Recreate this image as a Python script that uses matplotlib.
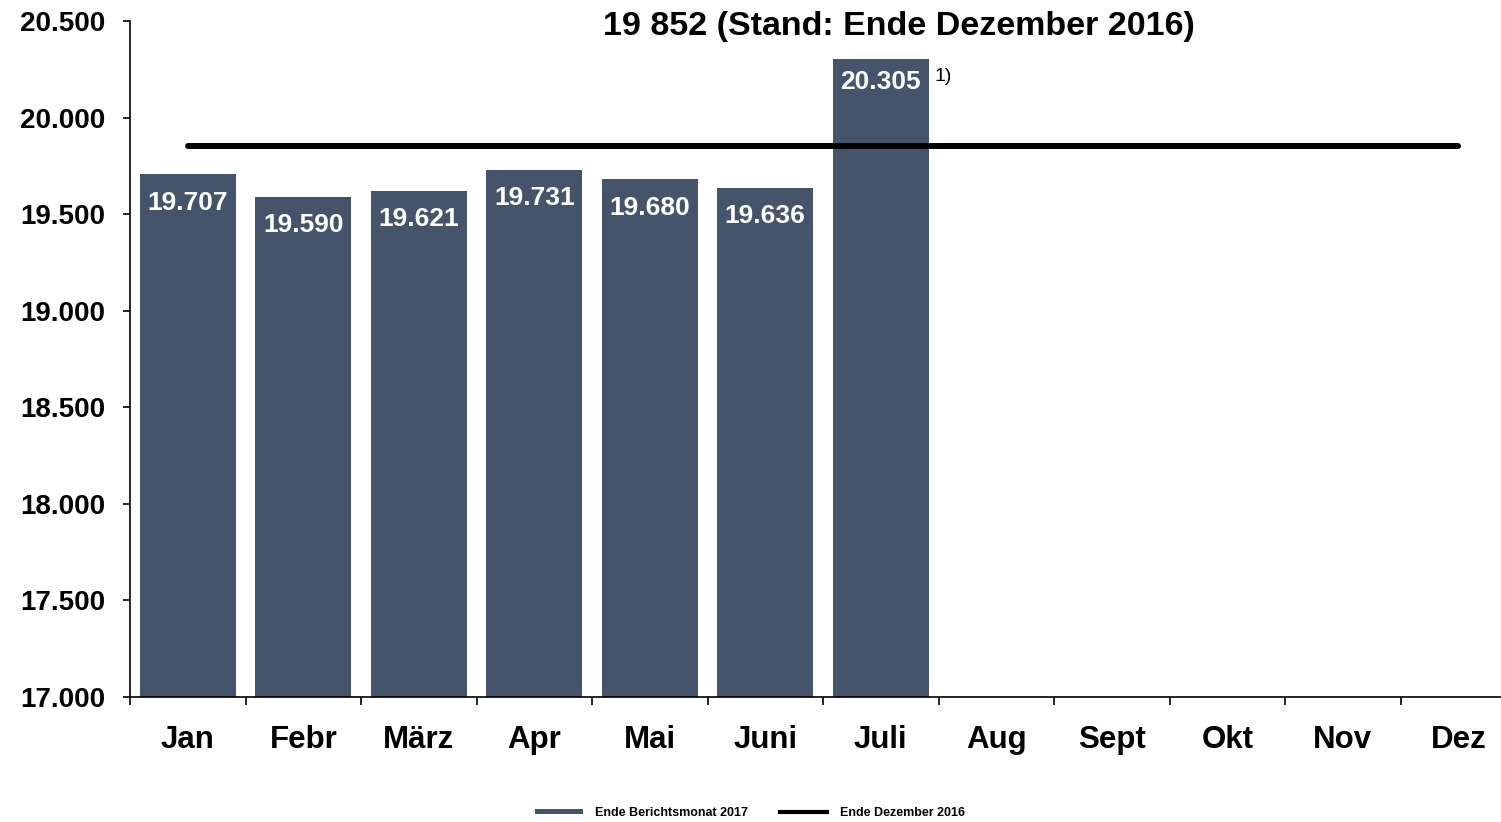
import matplotlib
matplotlib.use("Agg")
import matplotlib.pyplot as plt
from matplotlib.lines import Line2D
from matplotlib.patches import Patch

months = ["Jan", "Febr", "März", "Apr", "Mai", "Juni", "Juli", "Aug", "Sept", "Okt", "Nov", "Dez"]
values_2017 = [19707, 19590, 19621, 19731, 19680, 19636, 20305]
labels_2017 = ["19.707", "19.590", "19.621", "19.731", "19.680", "19.636", "20.305"]
ref_2016 = 19852
yticks = [17000, 17500, 18000, 18500, 19000, 19500, 20000, 20500]
ytick_labels = ["17.000", "17.500", "18.000", "18.500", "19.000", "19.500", "20.000", "20.500"]
title = "19 852 (Stand: Ende Dezember 2016)"
legend_labels = ["Ende Berichtsmonat 2017", "Ende Dezember 2016"]

plt.rcParams['font.family'] = ['Liberation Sans', 'DejaVu Sans']

W, H = 1501, 822
fig = plt.figure(figsize=(W / 100, H / 100), dpi=100)
ax = fig.add_axes([130 / W, (H - 697) / H, (W - 130) / W, 676 / H])

bar_color = "#45546b"
xs = list(range(len(values_2017)))
ax.bar(xs, [v - 17000 for v in values_2017], bottom=17000, width=0.83, color=bar_color, zorder=2)
ax.plot([0, len(months) - 1], [ref_2016, ref_2016], color="black", lw=4.3, zorder=3,
        solid_capstyle="round")

for x, v, lab in zip(xs, values_2017, labels_2017):
    ax.annotate(lab, (x, v), xytext=(0, -16.5 if v > 20000 else -20.5), textcoords="offset points",
                ha="center", va="center", color="white", fontsize=19, fontweight="bold", zorder=4)
ax.annotate("1)", (xs[-1] + 0.415, values_2017[-1]), xytext=(4, -13), textcoords="offset points",
            ha="left", va="center", fontsize=14, color="black")

ax.set_ylim(17000, 20500)
ax.set_xlim(-0.5, 11.37)
ax.set_yticks(yticks)
ax.set_yticklabels(ytick_labels, fontsize=20, fontweight="bold")
ax.tick_params(axis="y", direction="out", length=5, width=1.2, pad=13)

ax.set_xticks([i + 0.5 for i in range(-1, 11)])
ax.set_xticklabels([])
ax.tick_params(axis="x", direction="out", length=6, width=1.2)
for i, m in enumerate(months):
    ax.text(i, -0.063, m, transform=ax.get_xaxis_transform(), ha="center", va="center",
            fontsize=22.5, fontweight="bold")

for s in ["top", "right"]:
    ax.spines[s].set_visible(False)
for s in ["left", "bottom"]:
    ax.spines[s].set_linewidth(1.2)

fig.text(899 / W, 1 - 27 / H, title, ha="center", va="center", fontsize=24.5, fontweight="bold")

handles = [Patch(facecolor=bar_color, edgecolor="none"),
           Line2D([0], [0], color="black", lw=3)]
leg = fig.legend(handles, legend_labels, loc="center", bbox_to_anchor=(750 / W, 1 - 813 / H),
                 ncol=2, frameon=False, prop={"size": 9, "weight": "bold"},
                 handlelength=3.8, handleheight=0.35, columnspacing=2.5, handletextpad=1.0)

fig.savefig("out.png", dpi=100)
